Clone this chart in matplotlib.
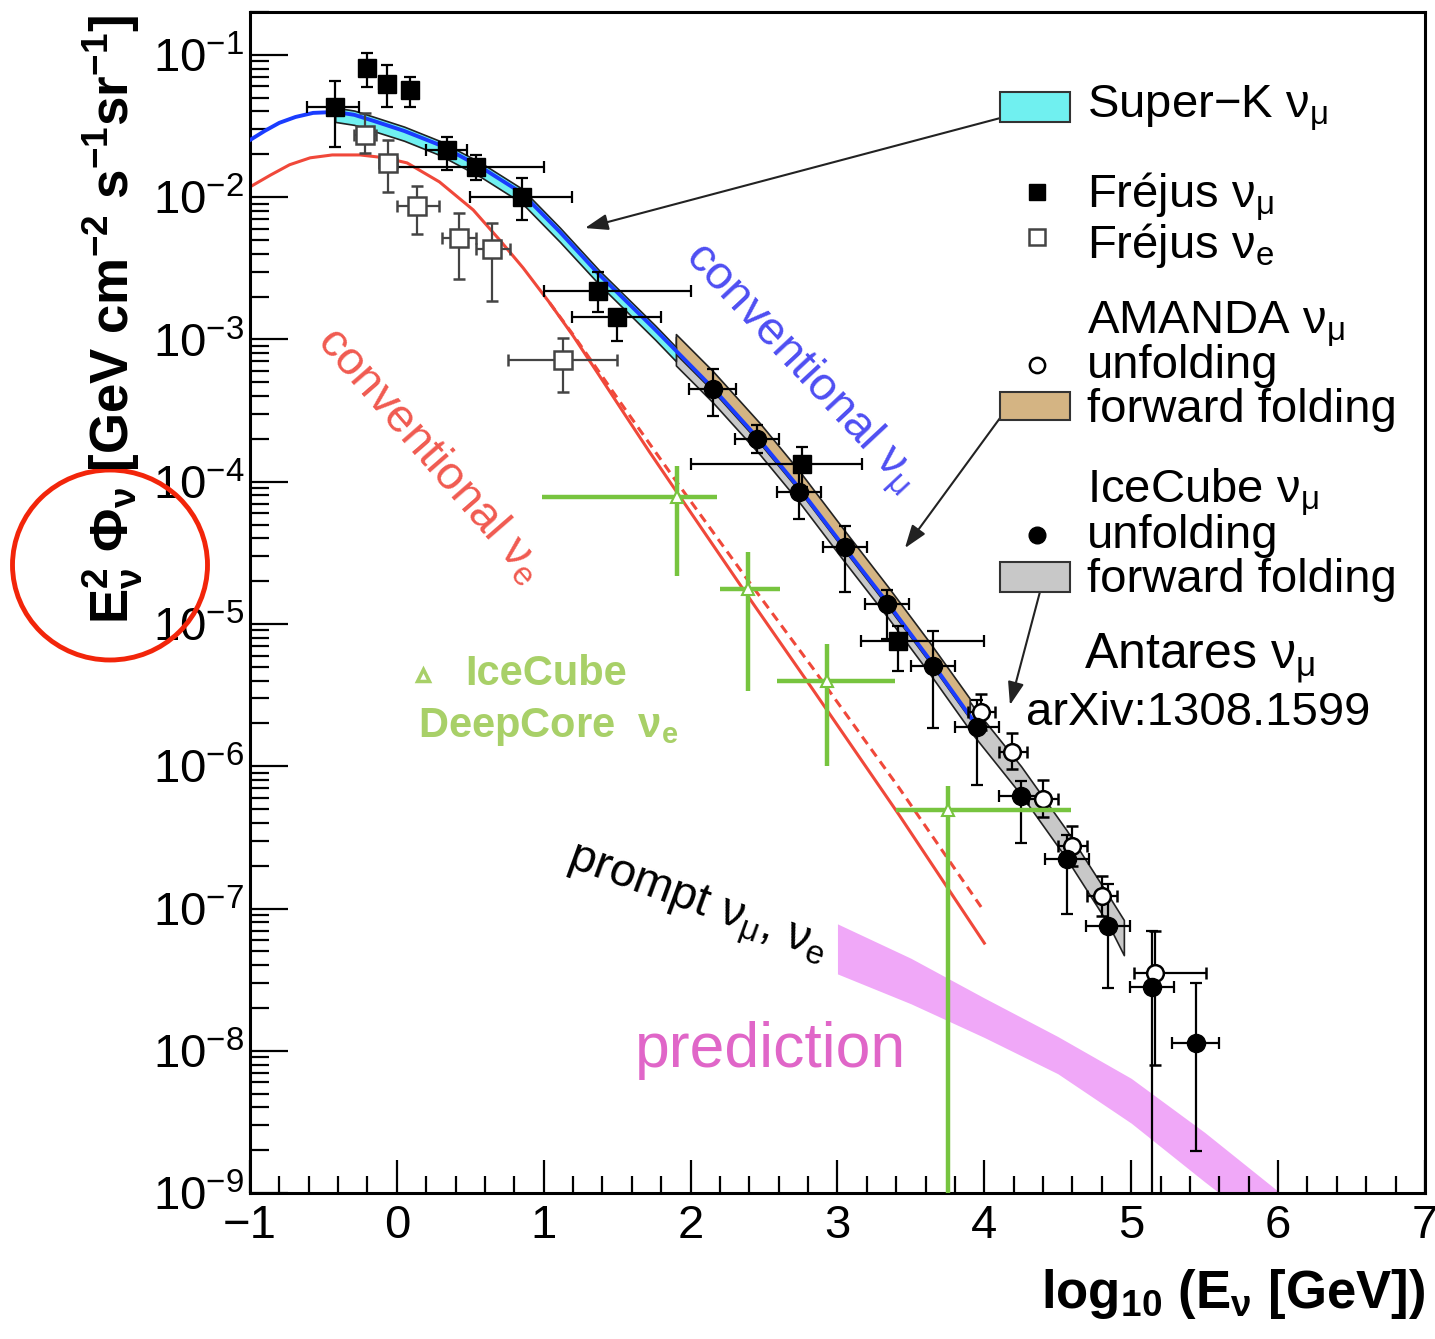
import matplotlib
matplotlib.use("Agg")
import matplotlib.pyplot as plt
import numpy as np
from matplotlib.patches import Rectangle, Ellipse
from matplotlib.ticker import LogLocator, MultipleLocator, NullFormatter

plt.rcParams['font.family'] = 'Liberation Sans'
plt.rcParams['mathtext.fontset'] = 'custom'
plt.rcParams['mathtext.rm'] = 'Liberation Sans'
plt.rcParams['mathtext.it'] = 'Liberation Sans:italic'
plt.rcParams['mathtext.bf'] = 'Liberation Sans:bold'
plt.rcParams['mathtext.default'] = 'regular'

# conventional atmospheric flux predictions, x = log10(E/GeV), y = E^2 Phi
conv_mu_x = [-1.0, -0.90, -0.80, -0.69, -0.57, -0.42, -0.29, -0.16, 0.05, 0.29, 0.57, 0.85, 1.11,
             1.38, 1.76, 2.15, 2.47, 2.74, 3.05, 3.34, 3.63, 3.93]
conv_mu_y = [2.52e-2, 2.92e-2, 3.33e-2, 3.66e-2, 3.91e-2, 3.97e-2, 3.79e-2, 3.44e-2, 2.92e-2, 2.33e-2,
             1.63e-2, 1.07e-2, 5.7e-3, 2.84e-3, 1.17e-3, 4.56e-4, 1.96e-4, 9.0e-5, 3.42e-5, 1.41e-5,
             5.58e-6, 2.05e-6]

conv_e_x = [-1.0, -0.86, -0.73, -0.59, -0.44, -0.25, -0.08, 0.07, 0.29, 0.52, 0.70, 0.86, 1.04,
            1.20, 1.38, 1.55, 1.72, 1.91, 2.39, 2.83, 3.42, 4.0]
conv_e_y = [1.18e-2, 1.43e-2, 1.69e-2, 1.89e-2, 1.98e-2, 1.98e-2, 1.89e-2, 1.74e-2, 1.28e-2, 8.13e-3,
            5.0e-3, 3.18e-3, 1.81e-3, 1.06e-3, 5.54e-4, 2.99e-4, 1.62e-4, 8.34e-5, 1.57e-5, 3.49e-6,
            4.54e-7, 5.71e-8]

conv_e_alt_x = [1.04, 1.20, 1.55, 1.91, 2.39, 2.83, 3.42, 4.0]
conv_e_alt_y = [1.81e-3, 1.08e-3, 3.28e-4, 9.8e-5, 2.03e-5, 4.93e-6, 7.03e-7, 9.5e-8]

# measured / unfolded bands
superk_x = [-0.42, -0.29, -0.16, 0.05, 0.29, 0.57, 0.85, 1.11, 1.38, 1.76, 1.90]
superk_lo = [3.38e-2, 3.22e-2, 2.92e-2, 2.49e-2, 1.98e-2, 1.39e-2, 9.12e-3, 4.85e-3, 2.42e-3, 9.93e-4, 7.03e-4]
superk_hi = [4.26e-2, 4.06e-2, 3.68e-2, 3.13e-2, 2.49e-2, 1.75e-2, 1.15e-2, 6.11e-3, 3.04e-3, 1.25e-3, 8.85e-4]

amanda_ff_x = [1.90, 2.15, 2.47, 2.74, 3.05, 3.34, 3.63, 3.90]
amanda_ff_lo = [7.89e-4, 4.36e-4, 1.87e-4, 8.63e-5, 3.27e-5, 1.34e-5, 5.33e-6, 2.17e-6]
amanda_ff_hi = [1.09e-3, 6.01e-4, 2.59e-4, 1.19e-4, 4.51e-5, 1.85e-5, 7.36e-6, 3.0e-6]

icecube_ff_x = [1.90, 2.15, 2.47, 2.74, 3.05, 3.34, 3.63, 3.93, 4.25, 4.56, 4.84, 4.95]
icecube_ff_lo = [6.56e-4, 3.62e-4, 1.56e-4, 7.18e-5, 2.72e-5, 1.12e-5, 4.44e-6, 1.63e-6, 6.3e-7,
                 2.24e-7, 7.9e-8, 4.7e-8]
icecube_ff_hi = [1.04e-3, 5.74e-4, 2.47e-4, 1.14e-4, 4.31e-5, 1.77e-5, 7.03e-6, 2.58e-6, 1.0e-6,
                 3.55e-7, 1.26e-7, 8.3e-8]

prompt_x = [3.0, 3.5, 4.0, 4.5, 5.0, 5.5, 6.0, 6.2]
prompt_lo = [3.47e-8, 2.14e-8, 1.24e-8, 6.9e-9, 3.1e-9, 1.2e-9, 4.8e-10, 3.3e-10]
prompt_hi = [7.8e-8, 4.47e-8, 2.35e-8, 1.26e-8, 6.4e-9, 2.67e-9, 1.03e-9, 7.1e-10]

# Frejus nu_mu (filled squares)
frejus_mu_x = [-0.42, -0.20, -0.07, 0.09, 0.34, 0.54, 0.85, 1.37, 1.50, 2.76, 3.41]
frejus_mu_y = [4.3e-2, 8.1e-2, 6.2e-2, 5.7e-2, 2.15e-2, 1.64e-2, 1.0e-2, 2.2e-3, 1.43e-3, 1.33e-4, 7.6e-6]
frejus_mu_xlo = [-0.61, -0.25, -0.12, 0.04, 0.20, 0.0, 0.50, 1.0, 1.19, 2.0, 3.16]
frejus_mu_xhi = [-0.26, -0.15, -0.02, 0.14, 0.48, 1.0, 1.19, 2.0, 1.80, 3.17, 4.0]
frejus_mu_ylo = [2.26e-2, 5.9e-2, 4.3e-2, 4.3e-2, 1.56e-2, 1.33e-2, 6.95e-3, 1.57e-3, 9.7e-4, 9.2e-5, 4.7e-6]
frejus_mu_yhi = [6.5e-2, 1.03e-1, 8.5e-2, 7.0e-2, 2.66e-2, 1.99e-2, 1.37e-2, 3.0e-3, 1.62e-3, 1.76e-4, 9.7e-6]

# Frejus nu_e (open squares)
frejus_e_x = [-0.22, -0.06, 0.14, 0.42, 0.65, 1.13]
frejus_e_y = [2.75e-2, 1.75e-2, 8.6e-3, 5.2e-3, 4.3e-3, 7.2e-4]
frejus_e_xlo = [-0.29, -0.12, 0.0, 0.31, 0.54, 0.76]
frejus_e_xhi = [-0.14, 0.0, 0.29, 0.54, 0.77, 1.50]
frejus_e_ylo = [2.05e-2, 1.08e-2, 5.5e-3, 2.64e-3, 1.85e-3, 4.25e-4]
frejus_e_yhi = [3.9e-2, 2.54e-2, 1.19e-2, 7.8e-3, 6.6e-3, 1.03e-3]

# AMANDA nu_mu unfolding (open circles)
amanda_x = [3.98, 4.19, 4.40, 4.60, 4.80, 5.16]
amanda_y = [2.4e-6, 1.26e-6, 5.9e-7, 2.77e-7, 1.23e-7, 3.5e-8]
amanda_xlo = [3.89, 4.10, 4.30, 4.50, 4.70, 5.02]
amanda_xhi = [4.07, 4.29, 4.50, 4.70, 4.90, 5.51]
amanda_ylo = [1.8e-6, 9.5e-7, 4.4e-7, 2.0e-7, 8.8e-8, 8.0e-9]
amanda_yhi = [3.2e-6, 1.7e-6, 8.0e-7, 3.8e-7, 1.7e-7, 6.9e-8]

# IceCube nu_mu unfolding (filled circles)
icecube_x = [2.15, 2.45, 2.74, 3.05, 3.34, 3.65, 3.95, 4.25, 4.56, 4.84, 5.14, 5.44]
icecube_y = [4.5e-4, 2.0e-4, 8.4e-5, 3.5e-5, 1.38e-5, 5.1e-6, 1.9e-6, 6.2e-7, 2.24e-7, 7.5e-8, 2.8e-8, 1.13e-8]
icecube_xlo = [1.99, 2.30, 2.59, 2.90, 3.19, 3.50, 3.80, 4.10, 4.41, 4.69, 4.99, 5.28]
icecube_xhi = [2.31, 2.60, 2.89, 3.20, 3.49, 3.80, 4.10, 4.40, 4.71, 4.99, 5.29, 5.60]
icecube_ylo = [2.88e-4, 1.6e-4, 5.46e-5, 1.68e-5, 7.8e-6, 1.86e-6, 7.4e-7, 2.88e-7, 9.1e-8, 2.74e-8, 5e-10, 1.97e-9]
icecube_yhi = [6.15e-4, 2.5e-4, 1.37e-4, 4.9e-5, 1.74e-5, 8.9e-6, 2.9e-6, 7.9e-7, 3.3e-7, 1.48e-7, 6.9e-8, 2.98e-8]

# IceCube DeepCore nu_e
deepcore_x = [1.91, 2.39, 2.93, 3.75]
deepcore_y = [7.8e-5, 1.76e-5, 4.0e-6, 4.9e-7]
deepcore_xlo = [0.99, 2.20, 2.59, 3.40]
deepcore_xhi = [2.18, 2.61, 3.39, 4.59]
deepcore_ylo = [2.17e-5, 3.4e-6, 1.0e-6, 1e-10]
deepcore_yhi = [1.29e-4, 3.2e-5, 7.2e-6, 7.3e-7]

fig = plt.figure(figsize=(14.35, 13.39), dpi=100)
ax = fig.add_axes([0.1742, 0.1090, 0.8188, 0.8820])
ax.set_yscale('log')
ax.set_xlim(-1, 7)
ax.set_ylim(1e-9, 0.2)


def points(x, y, xlo, xhi, ylo, yhi, **kw):
    x, y = np.array(x), np.array(y)
    ax.errorbar(x, y, xerr=[x - np.array(xlo), np.array(xhi) - x],
                yerr=[y - np.array(ylo), np.array(yhi) - y], **kw)


# bands and curves
ax.fill_between(prompt_x, prompt_lo, prompt_hi, color='#f0a8f8', lw=0, zorder=1)
ax.plot(conv_e_x, conv_e_y, color='#f0483a', lw=2.2, zorder=2)
ax.plot(conv_e_alt_x, conv_e_alt_y, color='#f0483a', lw=2.2, ls=(0, (3, 2)), zorder=2)
ax.fill_between(icecube_ff_x, icecube_ff_lo, icecube_ff_hi, facecolor='#c8c8c8',
                edgecolor='#222222', lw=1.2, zorder=2)
ax.fill_between(amanda_ff_x, amanda_ff_lo, amanda_ff_hi, facecolor='#d4b483',
                edgecolor='#222222', lw=1.2, zorder=2)
ax.fill_between(superk_x, superk_lo, superk_hi, facecolor='#70f0f0',
                edgecolor='#222222', lw=1.2, zorder=2)
ax.plot(conv_mu_x, conv_mu_y, color='#1a3cff', lw=2.8, zorder=3)

# data points
eb = dict(capsize=4, elinewidth=1.6, capthick=1.6, zorder=5, ls='none')
points(frejus_e_x, frejus_e_y, frejus_e_xlo, frejus_e_xhi, frejus_e_ylo, frejus_e_yhi,
       fmt='s', ms=13, mfc='white', mec='#444444', mew=1.8, color='#444444', **eb)
points(frejus_mu_x, frejus_mu_y, frejus_mu_xlo, frejus_mu_xhi, frejus_mu_ylo, frejus_mu_yhi,
       fmt='s', ms=13, color='black', **eb)
points(amanda_x, amanda_y, amanda_xlo, amanda_xhi, amanda_ylo, amanda_yhi,
       fmt='o', ms=12, mfc='white', mec='black', mew=1.8, color='black', **eb)
points(icecube_x, icecube_y, icecube_xlo, icecube_xhi, icecube_ylo, icecube_yhi,
       fmt='o', ms=13, color='black', **eb)
points(deepcore_x, deepcore_y, deepcore_xlo, deepcore_xhi, deepcore_ylo, deepcore_yhi,
       fmt='^', ms=9, mfc='white', mec='#77c43f', mew=1.5, color='#77c43f',
       elinewidth=3.2, capsize=0, ls='none', zorder=6)

# axes styling
ax.xaxis.set_major_locator(MultipleLocator(1))
ax.xaxis.set_minor_locator(MultipleLocator(0.2))
ax.yaxis.set_major_locator(LogLocator(base=10, numticks=20))
ax.yaxis.set_minor_locator(LogLocator(base=10, subs=np.arange(2, 10), numticks=20))
ax.yaxis.set_minor_formatter(NullFormatter())
ax.tick_params(which='both', direction='in', top=False, right=False, width=1.6,
               labelsize=34, colors='black')
ax.tick_params(axis='x', which='major', length=24, pad=8)
ax.tick_params(axis='x', which='minor', length=12)
ax.tick_params(axis='y', which='major', length=27, pad=4)
ax.tick_params(axis='y', which='minor', length=14)
for s in ax.spines.values():
    s.set_linewidth(2.2)

fig.text(0.0790, 0.9888, r'$E^{2}_{\nu}\ \Phi_{\nu}$ [GeV cm$^{-2}$ s$^{-1}$sr$^{-1}$]',
         rotation=90, fontsize=38, fontweight='bold', ha='center', va='top')
fig.text(0.9930, 0.0230, r'log$_{10}$ (E$_{\nu}$ [GeV])', fontsize=38, fontweight='bold',
         ha='right', va='baseline')
fig.add_artist(Ellipse((110 / 1435, 1 - 565 / 1339), 195 / 1435, 190 / 1339,
                       transform=fig.transFigure, fill=False, ec='#f2250a', lw=3.5))

# in-plot labels
ax.text(0.4681, 0.6985, r'conventional $\nu_{\mu}$', color='#4e4ef2', fontsize=34,
        rotation=-47, rotation_mode='anchor', ha='center', va='center', transform=ax.transAxes)
ax.text(0.1532, 0.6249, r'conventional $\nu_{e}$', color='#f05a50', fontsize=34,
        rotation=-49, rotation_mode='anchor', ha='center', va='center', transform=ax.transAxes)
ax.text(0.3804, 0.2439, r'prompt $\nu_{\mu}$, $\nu_{e}$', color='black', fontsize=34,
        rotation=-20, rotation_mode='anchor', ha='center', va='center', transform=ax.transAxes)
ax.text(0.4426, 0.1211, 'prediction', color='#e066c8', fontsize=45,
        ha='center', va='center', transform=ax.transAxes)
ax.plot([0.1472], [0.4386], '^', ms=9, mfc='white', mec='#a8d068', mew=2.5,
        transform=ax.transAxes, clip_on=False)
ax.text(0.1830, 0.4301, 'IceCube', color='#a8d068', fontsize=30, fontweight='bold',
        ha='left', va='baseline', transform=ax.transAxes)
ax.text(0.1430, 0.3861, r'DeepCore  $\nu_{e}$', color='#a8d068', fontsize=30, fontweight='bold',
        ha='left', va='baseline', transform=ax.transAxes)

# legend drawn by hand
lx = 0.7123
box_x, box_w = 0.6383, 0.0596
ax.add_patch(Rectangle((box_x, 0.9069), box_w, 0.0254, transform=ax.transAxes,
                       facecolor='#70f0f0', edgecolor='#333333', lw=1.5, clip_on=False, zorder=7))
ax.add_patch(Rectangle((box_x, 0.6545), box_w, 0.0237, transform=ax.transAxes,
                       facecolor='#d4b483', edgecolor='#333333', lw=1.5, clip_on=False, zorder=7))
ax.add_patch(Rectangle((box_x, 0.5089), box_w, 0.0254, transform=ax.transAxes,
                       facecolor='#c8c8c8', edgecolor='#333333', lw=1.5, clip_on=False, zorder=7))
ax.plot([0.6698], [0.8476], 's', ms=11, color='black', transform=ax.transAxes, zorder=7)
ax.plot([0.6698], [0.8095], 's', ms=11, mfc='white', mec='#444444', mew=1.8,
        transform=ax.transAxes, zorder=7)
ax.plot([0.6698], [0.7011], 'o', ms=11, mfc='white', mec='black', mew=1.8,
        transform=ax.transAxes, zorder=7)
ax.plot([0.6698], [0.5572], 'o', ms=12, color='black', transform=ax.transAxes, zorder=7)

legend_lines = [
    (0.9103, 'Super\u2212K $\\nu_{\\mu}$'),
    (0.8349, 'Fr\u00e9jus $\\nu_{\\mu}$'),
    (0.7917, 'Fr\u00e9jus $\\nu_{e}$'),
    (0.7282, 'AMANDA $\\nu_{\\mu}$'),
    (0.6901, 'unfolding'),
    (0.6528, 'forward folding'),
    (0.5851, 'IceCube $\\nu_{\\mu}$'),
    (0.5461, 'unfolding'),
    (0.5089, 'forward folding'),
]
for ly, txt in legend_lines:
    ax.text(lx, ly, txt, fontsize=34, ha='left', va='baseline', transform=ax.transAxes, zorder=8)
ax.text(0.8085, 0.4445, r'Antares $\nu_{\mu}$', fontsize=36, ha='center', va='baseline',
        transform=ax.transAxes, zorder=8)
ax.text(0.8068, 0.3963, 'arXiv:1308.1599', fontsize=34, ha='center', va='baseline',
        transform=ax.transAxes, zorder=8)

arrow = dict(arrowstyle='-|>,head_length=1.0,head_width=0.35', color='#222222', lw=1.5,
             shrinkA=0, shrinkB=0, mutation_scale=14)
for tail, head in [((0.6383, 0.9102), (0.2851, 0.8171)),
                   ((0.6383, 0.6562), (0.5574, 0.5461)),
                   ((0.6723, 0.5089), (0.6468, 0.4132))]:
    ax.annotate('', xy=head, xytext=tail, xycoords='axes fraction',
                textcoords='axes fraction', arrowprops=arrow)

fig.savefig('out.png', dpi=100)
